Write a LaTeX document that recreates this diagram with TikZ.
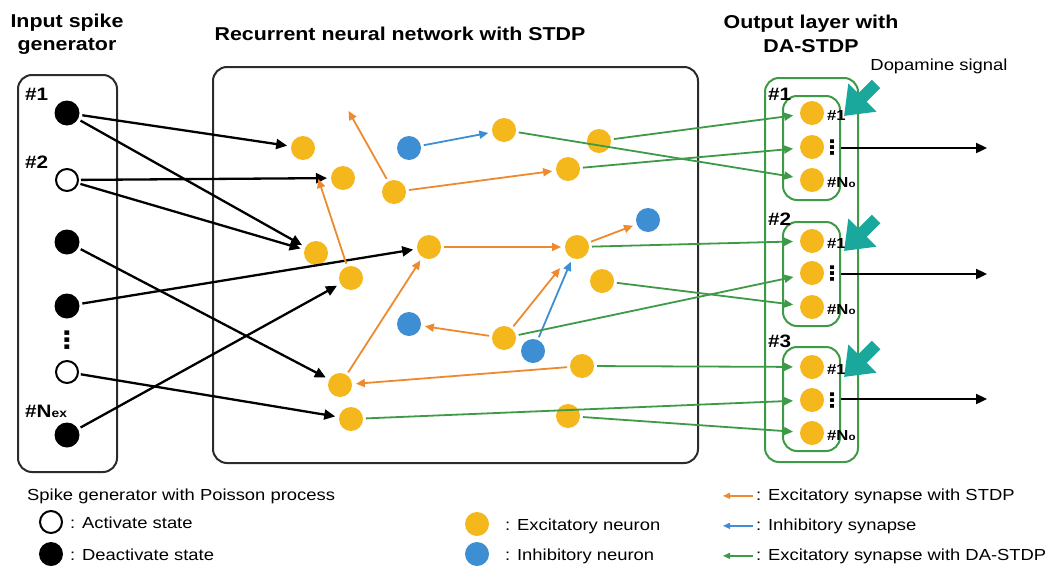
\documentclass[tikz,border=0pt]{standalone}
\usepackage{fontspec}
\setmainfont{Liberation Sans}[FakeStretch=1.15]
\newfontfamily\dotsfont{DejaVu Sans}[FakeStretch=1.15]
\usetikzlibrary{arrows.meta}
\definecolor{excc}{HTML}{F5B81C}
\definecolor{inhc}{HTML}{3D8ED3}
\definecolor{stdpc}{HTML}{EE8A2E}
\definecolor{dac}{HTML}{3E9A46}
\definecolor{dopac}{HTML}{1BA89C}
\definecolor{framec}{HTML}{2B2B2B}

\begin{document}
\begin{tikzpicture}[x=1pt,y=-1pt,
	exc/.style={circle,fill=excc,minimum size=24pt,inner sep=0pt,outer sep=3pt},
	inh/.style={circle,fill=inhc,minimum size=24pt,inner sep=0pt,outer sep=3pt},
	spikeon/.style={circle,draw,line width=2pt,fill=white,minimum size=22pt,inner sep=0pt,outer sep=3pt},
	spikeoff/.style={circle,fill=black,minimum size=25pt,inner sep=0pt,outer sep=3pt},
	feed/.style={line width=2.3pt,shorten >=1pt,-{Triangle[length=11pt,width=10pt]}},
	stdpsyn/.style={draw=stdpc,line width=1.8pt,shorten >=1pt,-{Triangle[length=9pt,width=8pt]}},
	inhsyn/.style={draw=inhc,line width=1.8pt,shorten >=1pt,-{Triangle[length=9pt,width=8pt]}},
	dasyn/.style={draw=dac,line width=1.8pt,shorten >=4pt,-{Triangle[length=9pt,width=8pt]}},
	dopamine/.style={draw=dopac,line width=12pt,-{Triangle[length=26pt,width=38pt]}},
	grp/.style={draw=dac,line width=2pt,rounded corners=14pt,inner sep=0pt},
	title/.style={font=\fontsize{18.6}{23.5}\selectfont\bfseries,align=center,inner sep=0pt},
	lbl/.style={font=\fontsize{18}{18}\selectfont\bfseries,anchor=base west,inner sep=0pt},
	olbl/.style={font=\fontsize{14.5}{14.5}\selectfont\bfseries,anchor=base west,inner sep=0pt},
	vdot/.style={font=\dotsfont\fontsize{24}{24}\selectfont\bfseries,inner sep=0pt},
	odot/.style={font=\dotsfont\fontsize{20}{20}\selectfont\bfseries,inner sep=0pt},
	legend/.style={font=\fontsize{16}{16}\selectfont,anchor=base west,inner sep=0pt}]
	\path[use as bounding box,fill=white] (0,0) rectangle (1049,570);

	\node[title] (tin) at (67,34) {Input spike\\generator};
	\node[title,anchor=base] (trnn) at (400,40) {Recurrent neural network with STDP};
	\node[title] (tout) at (811,34) {Output layer with\\DA-STDP};
	\node[legend,anchor=base] (tdopa) at (939,70) {Dopamine signal};

	\draw[framec,line width=2pt,rounded corners=14pt] (18,75) rectangle (117,472);
	\draw[framec,line width=2pt,rounded corners=14pt] (213,67) rectangle (698,463);

	\node[spikeoff] (s1) at (67,113) {};
	\node[spikeon] (s2) at (67,180) {};
	\node[spikeoff] (s3) at (67,242) {};
	\node[spikeoff] (s4) at (67,306) {};
	\node[vdot] (sdots) at (67,340) {⋮};
	\node[spikeon] (s5) at (67,372) {};
	\node[spikeoff] (s6) at (67,435) {};
	\node[lbl] (ls1) at (25,100) {\#1};
	\node[lbl] (ls2) at (25,168) {\#2};
	\node[lbl] (ls6) at (25,417) {\#N{\fontsize{12}{12}\selectfont ex}};

	\node[exc] (e1) at (303,148) {};
	\node[exc] (e2) at (343,178) {};
	\node[exc] (e3) at (504,130) {};
	\node[exc] (e4) at (599,141) {};
	\node[exc] (e5) at (394,192) {};
	\node[exc] (e6) at (568,169) {};
	\node[exc] (e7) at (316,253) {};
	\node[exc] (e8) at (429,247) {};
	\node[exc] (e9) at (577,247) {};
	\node[exc] (e10) at (351,278) {};
	\node[exc] (e11) at (602,281) {};
	\node[exc] (e12) at (504,338) {};
	\node[exc] (e13) at (582,366) {};
	\node[exc] (e14) at (340,385) {};
	\node[exc] (e15) at (351,419) {};
	\node[exc] (e16) at (568,416) {};
	\node[inh] (i1) at (409,148) {};
	\node[inh] (i2) at (648,220) {};
	\node[inh] (i3) at (409,324) {};
	\node[inh] (i4) at (533,351) {};
	\coordinate (up) at (348,110);

	\node[grp,minimum width=93pt,minimum height=384pt] (og) at (811.5,270) {};
	\node[grp,minimum width=57pt,minimum height=104pt] (g1) at (811.5,148) {};
	\node[grp,minimum width=57pt,minimum height=104pt] (g2) at (811.5,274) {};
	\node[grp,minimum width=57pt,minimum height=104pt] (g3) at (811.5,399) {};
	\node[lbl] (lg1) at (768,100) {\#1};
	\node[lbl] (lg2) at (768,225) {\#2};
	\node[lbl] (lg3) at (768,347) {\#3};

	\node[exc] (o11) at (812,113) {};
	\node[exc] (o12) at (812,147) {};
	\node[exc] (o13) at (812,180) {};
	\node[exc] (o21) at (812,241) {};
	\node[exc] (o22) at (812,273) {};
	\node[exc] (o23) at (812,307) {};
	\node[exc] (o31) at (812,367) {};
	\node[exc] (o32) at (812,400) {};
	\node[exc] (o33) at (812,433) {};
	\node[olbl] (lo11) at (827,120) {\#1};
	\node[odot] (lo12) at (832,148) {⋮};
	\node[olbl] (lo13) at (827,187) {\#N{\fontsize{10}{10}\selectfont o}};
	\node[olbl] (lo21) at (827,248) {\#1};
	\node[odot] (lo22) at (832,274) {⋮};
	\node[olbl] (lo23) at (827,314) {\#N{\fontsize{10}{10}\selectfont o}};
	\node[olbl] (lo31) at (827,374) {\#1};
	\node[odot] (lo32) at (832,401) {⋮};
	\node[olbl] (lo33) at (827,440) {\#N{\fontsize{10}{10}\selectfont o}};

	\coordinate (r1) at (988,148);
	\coordinate (r2) at (988,274);
	\coordinate (r3) at (988,399);
	\draw[feed] (g1.east) -- (r1);
	\draw[feed] (g2.east) -- (r2);
	\draw[feed] (g3.east) -- (r3);

	\coordinate (da1) at (876,84);
	\coordinate (db1) at (844,116);
	\coordinate (da2) at (876,219);
	\coordinate (db2) at (844,251);
	\coordinate (da3) at (876,345);
	\coordinate (db3) at (844,377);
	\draw[dopamine] (da1) -- (db1);
	\draw[dopamine] (da2) -- (db2);
	\draw[dopamine] (da3) -- (db3);

	\draw[feed] (s1) -- (e1);
	\draw[feed] (s1) -- (e7);
	\draw[feed] (s2) -- (e2);
	\draw[feed] (s2) -- (e7);
	\draw[feed] (s3) -- (e14);
	\draw[feed] (s4) -- (e8);
	\draw[feed] (s5) -- (e15);
	\draw[feed] (s6) -- (e10);

	\draw[stdpsyn] (e10) -- ([xshift=-10pt]e2.west);
	\draw[stdpsyn] (e5) -- (up);
	\draw[stdpsyn] (e5) -- (e6);
	\draw[stdpsyn] (e8) -- (e9);
	\draw[stdpsyn] (e9) -- (i2);
	\draw[stdpsyn] (e14) -- (e8);
	\draw[stdpsyn,shorten >=12pt] (e12) -- (e9);
	\draw[stdpsyn] (e12) -- (i3);
	\draw[stdpsyn] (e13) -- (e14);
	\draw[inhsyn] (i1) -- (e3);
	\draw[inhsyn] (i4) -- (e9);

	\draw[dasyn] (e3) -- (o13);
	\draw[dasyn] (e4) -- (o11);
	\draw[dasyn] (e6) -- (o12);
	\draw[dasyn] (e9) -- (o21);
	\draw[dasyn] (e11) -- (o23);
	\draw[dasyn] (e12) -- (o22);
	\draw[dasyn] (e13) -- (o31);
	\draw[dasyn] (e15) -- (o32);
	\draw[dasyn] (e16) -- (o33);

	\node[legend] (tpois) at (27,500) {Spike generator with Poisson process};
	\node[spikeon,minimum size=22pt] (kon) at (51,522) {};
	\node[legend] (ton) at (70,528) {: Activate state};
	\node[spikeoff,minimum size=24pt] (koff) at (51,554) {};
	\node[legend] (toff) at (70,560) {: Deactivate state};
	\node[exc] (kexc) at (477,524) {};
	\node[legend] (texc) at (505,530) {: Excitatory neuron};
	\node[inh] (kinh) at (477,554) {};
	\node[legend] (tinh) at (505,560) {: Inhibitory neuron};
	\node[legend] (tstdp) at (756,500) {: Excitatory synapse with STDP};
	\node[legend] (tinhs) at (756,530) {: Inhibitory synapse};
	\node[legend] (tdas) at (756,560) {: Excitatory synapse with DA-STDP};
	\draw[stdpsyn,line width=1.4pt,-{Triangle[length=7pt,width=6pt]}] ([xshift=-3pt]tstdp.west) -- ([xshift=-34pt]tstdp.west);
	\draw[inhsyn,line width=1.4pt,-{Triangle[length=7pt,width=6pt]}] ([xshift=-3pt]tinhs.west) -- ([xshift=-34pt]tinhs.west);
	\draw[dasyn,line width=1.4pt,shorten >=1pt,-{Triangle[length=7pt,width=6pt]}] ([xshift=-3pt]tdas.west) -- ([xshift=-34pt]tdas.west);
\end{tikzpicture}
\end{document}
